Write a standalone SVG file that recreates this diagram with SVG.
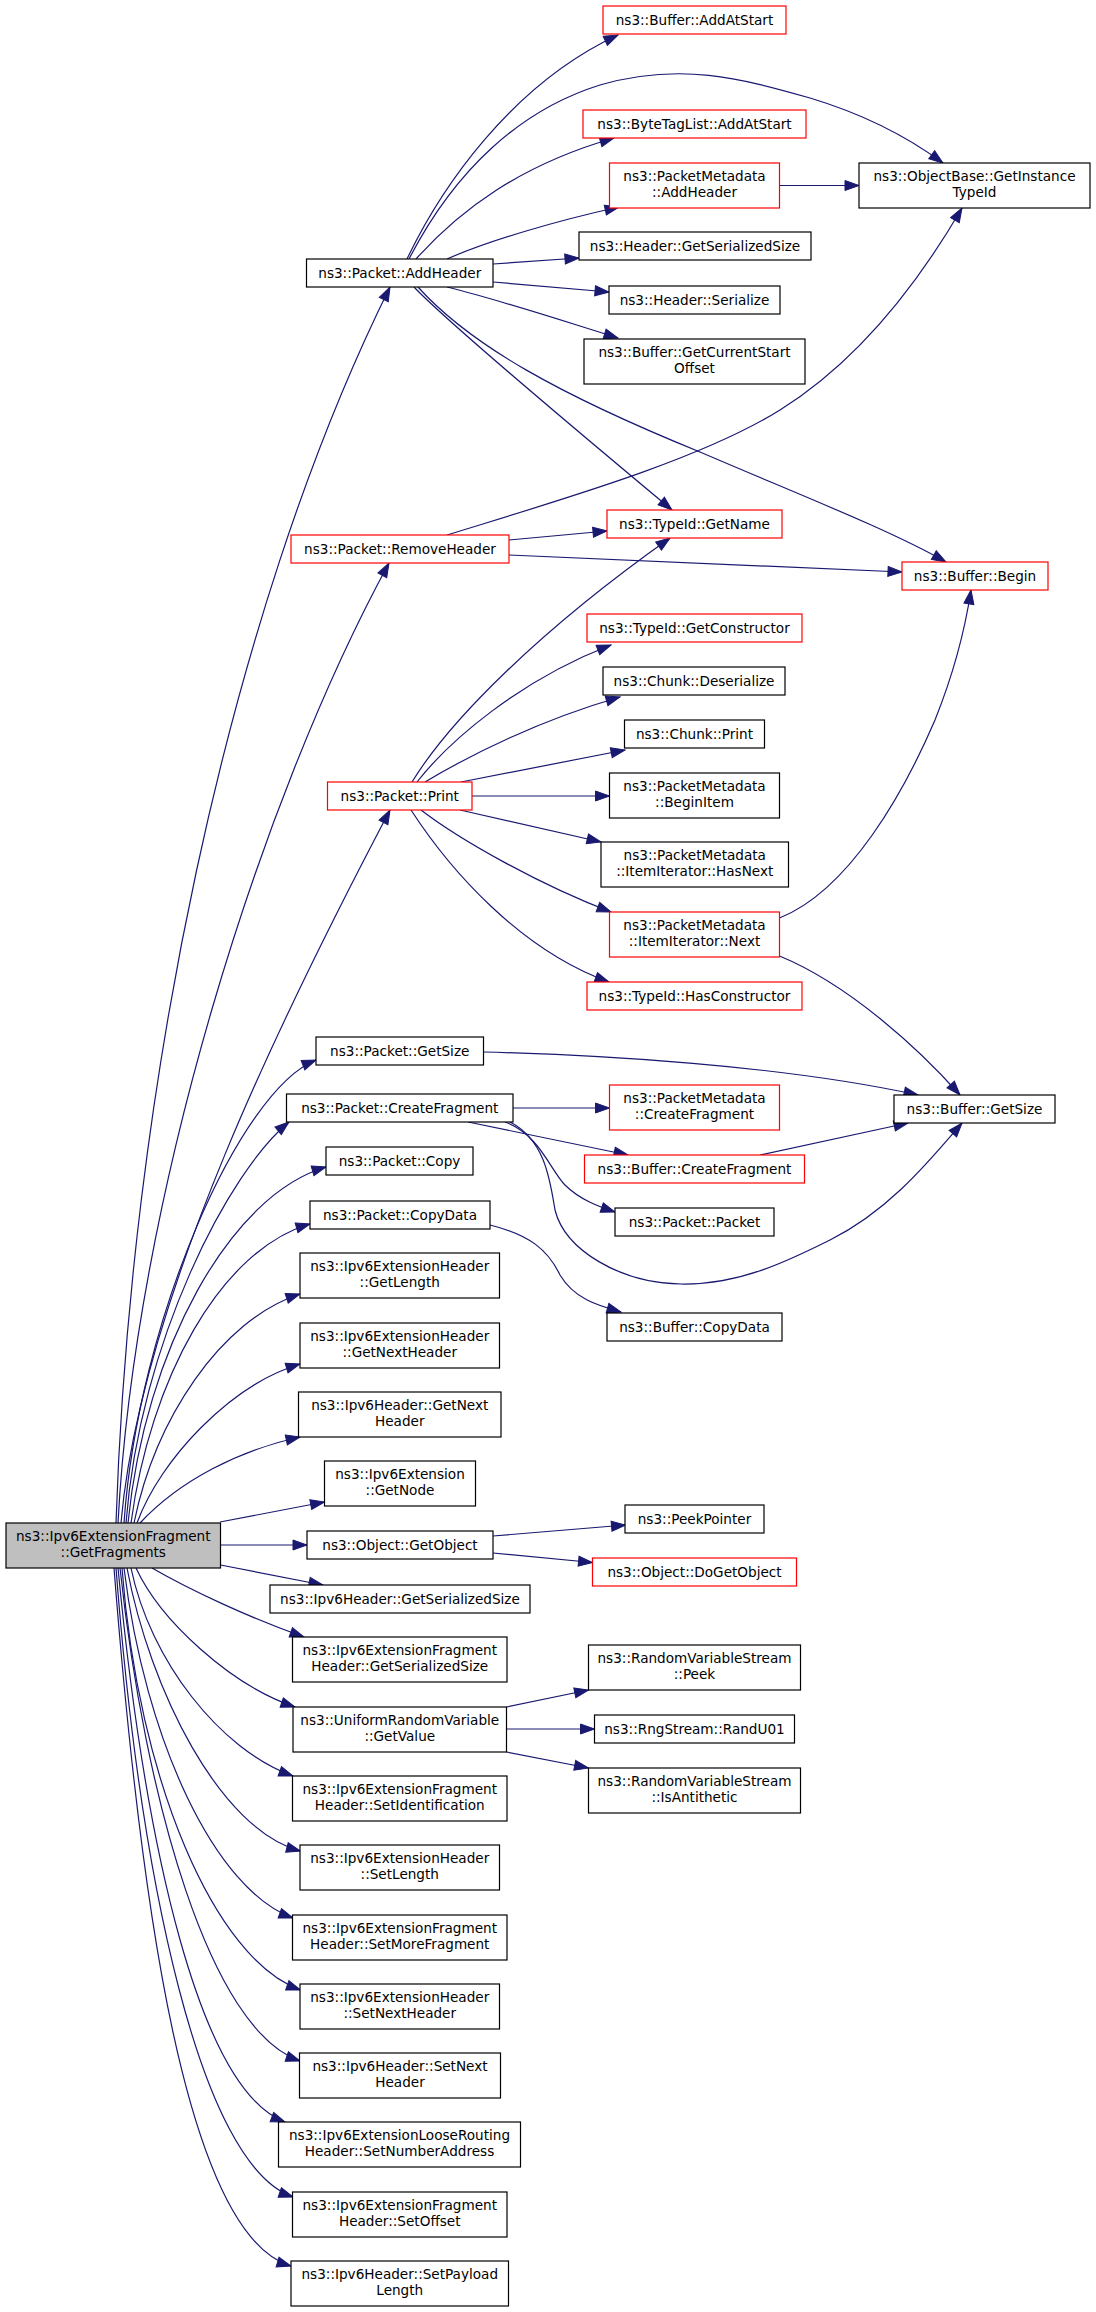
<svg xmlns="http://www.w3.org/2000/svg" width="1096" height="2312" viewBox="0 0 1096 2312">
<style>
.n rect{fill:#fff;stroke:#000;stroke-width:1.2}
.r rect{stroke:#f00}
.m rect{fill:#bfbfbf}
text{font-family:"DejaVu Sans","Liberation Sans",sans-serif;font-size:13.6px;text-anchor:middle;fill:#000}
.e path{fill:none;stroke:#191970;stroke-width:1.2;marker-end:url(#ah)}
</style>
<defs>
<marker id="ah" markerUnits="userSpaceOnUse" markerWidth="16" markerHeight="12" refX="14" refY="5" orient="auto" overflow="visible">
<path d="M0,0 L14,5 L0,10 z" fill="#191970" stroke="#191970" stroke-width="1"/>
</marker>
</defs>
<rect width="1096" height="2312" fill="#fff"/>
<g class="e" id="edges">
<path d="M407,259 C440,190 510,85 618,35"/>
<path d="M409,259 C455,170 520,110 600,85 C680,62 740,78 810,98 C860,113 905,135 943,163"/>
<path d="M416,259 C460,210 520,165 614,138"/>
<path d="M447,259 C490,240 560,220 619,207"/>
<path d="M493,264 L579,258"/>
<path d="M493,282 L609,292"/>
<path d="M447,287 C500,300 560,320 618,338"/>
<path d="M414,287 C450,325 600,450 672,510"/>
<path d="M418,287 C470,345 560,395 700,452 C800,495 890,530 946,562"/>
<path d="M779.5,185.5 L859,185.5"/>
<path d="M447,535 C560,500 700,460 780,410 C860,360 920,280 962,208"/>
<path d="M509,540 L607,531"/>
<path d="M509,555 L902,572"/>
<path d="M412,782 C450,720 540,630 670,538"/>
<path d="M417,782 C450,740 520,680 611,645"/>
<path d="M425,782 C470,755 540,720 620,697"/>
<path d="M461,782 L625,750"/>
<path d="M472,796 L609.5,796"/>
<path d="M460,810 L601,842"/>
<path d="M421,810 C460,840 540,885 611,912"/>
<path d="M411,810 C450,870 520,950 609,982"/>
<path d="M779.5,918 C850,890 905,790 935,720 C955,670 965,630 971,590"/>
<path d="M779.5,956 C850,985 920,1050 960,1095"/>
<path d="M483,1052 C600,1055 780,1065 918,1095"/>
<path d="M513,1108 L609.5,1108"/>
<path d="M468,1122 L628,1155"/>
<path d="M505,1122 C540,1135 550,1170 565,1185 C580,1200 600,1207 615,1212"/>
<path d="M510,1122 C545,1140 550,1180 555,1210 C565,1250 620,1283 681,1284 C740,1285 790,1260 830,1240 C890,1210 930,1160 962,1123"/>
<path d="M760,1155 L908,1123"/>
<path d="M490,1225 C530,1235 548,1250 560,1275 C575,1300 600,1306 621,1312"/>
<path d="M493,1536 L625.5,1525"/>
<path d="M493,1553 L592.5,1562.5"/>
<path d="M506.5,1707 L588.5,1690"/>
<path d="M506.5,1729 L594.5,1729"/>
<path d="M506.5,1752 L588.5,1768"/>
<path d="M116,1523 C130,1100 225,620 390,287"/>
<path d="M118,1523 C135,1200 260,800 389,563"/>
<path d="M121,1523 C140,1300 290,1000 390,810"/>
<path d="M124,1523 C138,1320 240,1090 316,1060"/>
<path d="M126,1523 C140,1340 230,1170 289,1122"/>
<path d="M128,1523 C145,1350 230,1195 326,1167"/>
<path d="M131,1523 C150,1380 220,1250 310,1224"/>
<path d="M134,1523 C155,1420 220,1320 300,1294"/>
<path d="M137,1523 C160,1460 230,1385 300,1364"/>
<path d="M140,1523 C180,1480 240,1450 300,1437"/>
<path d="M220,1522 L324.5,1502"/>
<path d="M220.5,1545 L307,1545"/>
<path d="M220.5,1565 L323,1585"/>
<path d="M152,1568 C190,1590 250,1618 304,1637"/>
<path d="M136,1568 C160,1620 230,1685 295,1707"/>
<path d="M131,1568 C150,1660 220,1750 293,1776"/>
<path d="M127,1568 C150,1690 220,1830 300.5,1851"/>
<path d="M124,1568 C145,1740 215,1890 293,1918"/>
<path d="M122,1568 C138,1780 215,1960 300.5,1990"/>
<path d="M120,1568 C145,1800 210,2030 300,2061"/>
<path d="M118,1568 C145,1850 200,2090 285,2122"/>
<path d="M116,1568 C140,1880 200,2165 293,2197"/>
<path d="M114,1568 C140,1900 185,2235 291,2266"/>
</g>
<g id="n1" class="n"><rect x="306.5" y="259" width="186.5" height="28"/><text x="399.75" y="277.7">ns3::Packet::AddHeader</text></g>
<g id="n2" class="n r"><rect x="603" y="6" width="183" height="28"/><text x="694.5" y="24.7">ns3::Buffer::AddAtStart</text></g>
<g id="n3" class="n"><rect x="859" y="163" width="231" height="45"/><text x="974.5" y="180.5">ns3::ObjectBase::GetInstance</text><text x="974.5" y="197">TypeId</text></g>
<g id="n4" class="n r"><rect x="583" y="110" width="223" height="28"/><text x="694.5" y="128.7">ns3::ByteTagList::AddAtStart</text></g>
<g id="n5" class="n r"><rect x="609.5" y="163" width="170" height="45"/><text x="694.5" y="180.5">ns3::PacketMetadata</text><text x="694.5" y="197">::AddHeader</text></g>
<g id="n6" class="n"><rect x="579" y="232" width="232" height="28"/><text x="695" y="250.7">ns3::Header::GetSerializedSize</text></g>
<g id="n7" class="n"><rect x="609" y="286" width="171" height="28"/><text x="694.5" y="304.7">ns3::Header::Serialize</text></g>
<g id="n8" class="n"><rect x="584" y="339" width="221" height="45"/><text x="694.5" y="356.5">ns3::Buffer::GetCurrentStart</text><text x="694.5" y="373">Offset</text></g>
<g id="n9" class="n r"><rect x="291" y="535" width="218" height="28"/><text x="400" y="553.7">ns3::Packet::RemoveHeader</text></g>
<g id="n10" class="n r"><rect x="607" y="510" width="175" height="28"/><text x="694.5" y="528.7">ns3::TypeId::GetName</text></g>
<g id="n11" class="n r"><rect x="902" y="562" width="146" height="28"/><text x="975" y="580.7">ns3::Buffer::Begin</text></g>
<g id="n12" class="n r"><rect x="587" y="614" width="215" height="28"/><text x="694.5" y="632.7">ns3::TypeId::GetConstructor</text></g>
<g id="n13" class="n"><rect x="603" y="667" width="182" height="28"/><text x="694" y="685.7">ns3::Chunk::Deserialize</text></g>
<g id="n14" class="n"><rect x="624.5" y="720" width="140" height="28"/><text x="694.5" y="738.7">ns3::Chunk::Print</text></g>
<g id="n15" class="n"><rect x="609.5" y="773" width="170" height="45"/><text x="694.5" y="790.5">ns3::PacketMetadata</text><text x="694.5" y="807">::BeginItem</text></g>
<g id="n16" class="n r"><rect x="327.5" y="782" width="144.5" height="28"/><text x="399.75" y="800.7">ns3::Packet::Print</text></g>
<g id="n17" class="n"><rect x="601" y="842" width="187.5" height="45"/><text x="694.75" y="859.5">ns3::PacketMetadata</text><text x="694.75" y="876">::ItemIterator::HasNext</text></g>
<g id="n18" class="n r"><rect x="609.5" y="912" width="170" height="45"/><text x="694.5" y="929.5">ns3::PacketMetadata</text><text x="694.5" y="946">::ItemIterator::Next</text></g>
<g id="n19" class="n r"><rect x="587" y="982" width="215" height="28"/><text x="694.5" y="1000.7">ns3::TypeId::HasConstructor</text></g>
<g id="n20" class="n"><rect x="316" y="1037" width="167.5" height="28"/><text x="399.75" y="1055.7">ns3::Packet::GetSize</text></g>
<g id="n21" class="n"><rect x="286.5" y="1094" width="226.5" height="28"/><text x="399.75" y="1112.7">ns3::Packet::CreateFragment</text></g>
<g id="n22" class="n r"><rect x="609.5" y="1085" width="170" height="45"/><text x="694.5" y="1102.5">ns3::PacketMetadata</text><text x="694.5" y="1119">::CreateFragment</text></g>
<g id="n23" class="n"><rect x="894" y="1095" width="161" height="28"/><text x="974.5" y="1113.7">ns3::Buffer::GetSize</text></g>
<g id="n24" class="n r"><rect x="584.5" y="1155" width="220" height="28"/><text x="694.5" y="1173.7">ns3::Buffer::CreateFragment</text></g>
<g id="n25" class="n"><rect x="326" y="1147" width="147" height="28"/><text x="399.5" y="1165.7">ns3::Packet::Copy</text></g>
<g id="n26" class="n"><rect x="615" y="1208" width="159" height="28"/><text x="694.5" y="1226.7">ns3::Packet::Packet</text></g>
<g id="n27" class="n"><rect x="310" y="1201" width="180" height="28"/><text x="400" y="1219.7">ns3::Packet::CopyData</text></g>
<g id="n28" class="n"><rect x="607" y="1313" width="175" height="28"/><text x="694.5" y="1331.7">ns3::Buffer::CopyData</text></g>
<g id="n29" class="n"><rect x="300" y="1253" width="199.5" height="45"/><text x="399.75" y="1270.5">ns3::Ipv6ExtensionHeader</text><text x="399.75" y="1287">::GetLength</text></g>
<g id="n30" class="n"><rect x="300" y="1323" width="199.5" height="45"/><text x="399.75" y="1340.5">ns3::Ipv6ExtensionHeader</text><text x="399.75" y="1357">::GetNextHeader</text></g>
<g id="n31" class="n"><rect x="298.5" y="1392" width="202.5" height="45"/><text x="399.75" y="1409.5">ns3::Ipv6Header::GetNext</text><text x="399.75" y="1426">Header</text></g>
<g id="n32" class="n"><rect x="324.5" y="1461" width="151" height="45"/><text x="400" y="1478.5">ns3::Ipv6Extension</text><text x="400" y="1495">::GetNode</text></g>
<g id="n33" class="n m"><rect x="6" y="1523" width="214.5" height="45"/><text x="113.25" y="1540.5">ns3::Ipv6ExtensionFragment</text><text x="113.25" y="1557">::GetFragments</text></g>
<g id="n34" class="n"><rect x="307" y="1531" width="186" height="28"/><text x="400" y="1549.7">ns3::Object::GetObject</text></g>
<g id="n35" class="n"><rect x="625" y="1505" width="139" height="28"/><text x="694.5" y="1523.7">ns3::PeekPointer</text></g>
<g id="n36" class="n r"><rect x="592.5" y="1558" width="204" height="28"/><text x="694.5" y="1576.7">ns3::Object::DoGetObject</text></g>
<g id="n37" class="n"><rect x="270" y="1585" width="260" height="28"/><text x="400" y="1603.7">ns3::Ipv6Header::GetSerializedSize</text></g>
<g id="n38" class="n"><rect x="292.5" y="1637" width="214.5" height="45"/><text x="399.75" y="1654.5">ns3::Ipv6ExtensionFragment</text><text x="399.75" y="1671">Header::GetSerializedSize</text></g>
<g id="n39" class="n"><rect x="293" y="1707" width="213.5" height="45"/><text x="399.75" y="1724.5">ns3::UniformRandomVariable</text><text x="399.75" y="1741">::GetValue</text></g>
<g id="n40" class="n"><rect x="588.5" y="1645" width="212" height="45"/><text x="694.5" y="1662.5">ns3::RandomVariableStream</text><text x="694.5" y="1679">::Peek</text></g>
<g id="n41" class="n"><rect x="594.5" y="1715" width="200" height="28"/><text x="694.5" y="1733.7">ns3::RngStream::RandU01</text></g>
<g id="n42" class="n"><rect x="588.5" y="1768" width="212" height="45"/><text x="694.5" y="1785.5">ns3::RandomVariableStream</text><text x="694.5" y="1802">::IsAntithetic</text></g>
<g id="n43" class="n"><rect x="292.5" y="1776" width="214.5" height="45"/><text x="399.75" y="1793.5">ns3::Ipv6ExtensionFragment</text><text x="399.75" y="1810">Header::SetIdentification</text></g>
<g id="n44" class="n"><rect x="300" y="1845" width="199.5" height="45"/><text x="399.75" y="1862.5">ns3::Ipv6ExtensionHeader</text><text x="399.75" y="1879">::SetLength</text></g>
<g id="n45" class="n"><rect x="292.5" y="1915" width="214.5" height="45"/><text x="399.75" y="1932.5">ns3::Ipv6ExtensionFragment</text><text x="399.75" y="1949">Header::SetMoreFragment</text></g>
<g id="n46" class="n"><rect x="300" y="1984" width="199.5" height="45"/><text x="399.75" y="2001.5">ns3::Ipv6ExtensionHeader</text><text x="399.75" y="2018">::SetNextHeader</text></g>
<g id="n47" class="n"><rect x="299.5" y="2053" width="201" height="45"/><text x="400" y="2070.5">ns3::Ipv6Header::SetNext</text><text x="400" y="2087">Header</text></g>
<g id="n48" class="n"><rect x="278.5" y="2122" width="242" height="45"/><text x="399.5" y="2139.5">ns3::Ipv6ExtensionLooseRouting</text><text x="399.5" y="2156">Header::SetNumberAddress</text></g>
<g id="n49" class="n"><rect x="292.5" y="2192" width="214.5" height="45"/><text x="399.75" y="2209.5">ns3::Ipv6ExtensionFragment</text><text x="399.75" y="2226">Header::SetOffset</text></g>
<g id="n50" class="n"><rect x="291" y="2261" width="217.5" height="45"/><text x="399.75" y="2278.5">ns3::Ipv6Header::SetPayload</text><text x="399.75" y="2295">Length</text></g>
</svg>
